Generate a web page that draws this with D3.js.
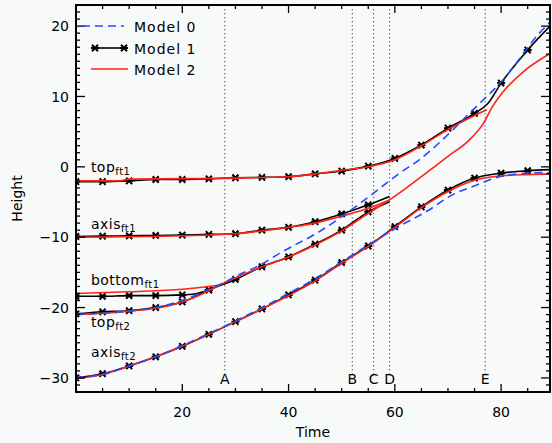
<!DOCTYPE html>
<html>
<head>
<meta charset="utf-8">
<script src="https://cdn.jsdelivr.net/npm/d3@7"></script>
<style>
  body { margin: 0; background: #f8f9f9; }
  svg { display: block; font-family: "DejaVu Sans", sans-serif; }
</style>
</head>
<body>
<svg id="chart" width="552" height="443"></svg>
<script>
// series as [time, height] pairs
const m0Upper = [[0,-21.0],[5,-20.8],[10,-20.5],[15,-20.0],[20,-19.0],[25,-17.4],[28,-16.4],[30,-15.6],[35,-13.8],[38.3,-12.3],[45.8,-9.2],[55.2,-4.2],[60.9,-0.9],[64.6,1.0],[70.3,4.8],[74.7,8.1],[80.3,12.3],[87.2,19.0],[89.2,20.6]];
const m0AxisFt2 = [[0,-29.9],[5,-29.5],[10,-28.3],[15,-27.0],[20,-25.4],[25,-23.7],[30,-21.9],[35,-20.0],[40,-18.0],[45,-15.9],[50,-13.5],[55,-11.1],[60,-8.8],[66.5,-6.1],[70.3,-4.2],[75.3,-2.6],[80.3,-1.3],[85.3,-0.9],[89.2,-0.8]];

const m1TopFt1 = [[0,-2.1],[5,-2.1],[10,-2.0],[15,-1.8],[20,-1.8],[25,-1.7],[30,-1.55],[35,-1.5],[40,-1.4],[45,-1.0],[50,-0.6],[55,0.1],[60,1.2],[65,3.1],[70,5.5],[75,7.6],[77.5,9.0],[80,11.9],[85,16.6],[89.2,20.0]];
const m1AxisFt1 = [[0,-9.9],[5,-9.85],[10,-9.8],[15,-9.75],[20,-9.7],[25,-9.6],[30,-9.5],[35,-9.0],[40,-8.6],[45,-7.8],[50,-6.7],[55,-5.4],[59,-4.2]];
const m1BottomFt1 = [[0,-18.4],[5,-18.4],[10,-18.3],[15,-18.3],[20,-18.2],[22,-18.1],[25,-17.5]];
const m1TopFt2 = [[0,-20.9],[5,-20.6],[10,-20.45],[15,-20.0],[20,-19.2],[25,-17.5],[30,-16.0],[35,-14.2],[40,-12.8],[45,-11.0],[50,-9.0],[55,-6.4],[59,-4.95]];
const m1AxisFt2 = [[0,-30.0],[5,-29.4],[10,-28.3],[15,-27.0],[20,-25.5],[25,-23.8],[30,-22.0],[35,-20.2],[40,-18.2],[45,-16.1],[50,-13.6],[55,-11.25],[60,-8.5],[65,-5.7],[70,-3.3],[75,-1.6],[80,-0.9],[85,-0.55],[89.2,-0.4]];

const m2TopFt1 = [[0,-2.0],[8,-2.0],[10,-1.75],[30,-1.6],[40,-1.4],[45,-1.0],[50,-0.5],[55,0.0],[60,1.0],[65,3.0],[70,5.3],[75,7.3],[77.3,8.1]];
const m2AxisFt1 = [[0,-10.0],[20,-9.8],[30,-9.5],[35,-9.1],[40,-8.6],[45,-8.0],[50,-7.0],[55,-5.9],[59,-4.7]];
const m2BottomFt1 = [[0,-18.0],[10,-17.75],[20,-17.4],[25,-17.0],[27,-16.8]];
const m2TopFt2 = [[0,-21.0],[5,-20.8],[10,-20.5],[15,-20.1],[20,-19.2],[25,-17.6],[27,-16.8],[30,-15.8],[35,-14.2],[40,-12.8],[45,-11.1],[50,-9.1],[55,-6.6],[59,-4.7],[62,-3.1],[65,-1.4],[70,1.5],[74,3.8],[76.6,6.1],[78.4,8.6],[80.3,10.6],[84,13.4],[89.2,16.1]];
const m2AxisFt2 = [[0,-30.1],[5,-29.5],[10,-28.3],[15,-27.0],[20,-25.5],[25,-23.8],[30,-22.0],[35,-20.2],[40,-18.3],[45,-16.2],[50,-13.7],[55,-11.3],[60,-8.6],[65,-5.8],[70,-3.5],[75,-1.9],[80,-1.3],[85,-1.1],[89.2,-1.0]];

const eventNames = ["A", "B", "C", "D", "E"];
const eventTimes = [28, 52, 56, 59, 77];

const layerNames = ["top", "axis", "bottom", "top", "axis"];
const layerSubs = ["ft1", "ft1", "ft1", "ft2", "ft2"];
const layerBaselines = [-0.8, -8.8, -16.8, -22.8, -27.0]; // label baseline in data units

const legendNames = ["Model 0", "Model 1", "Model 2"];

const xTicks = [20, 40, 60, 80];
const yTicks = [20, 10, 0, -10, -20, -30];

const BLUE = "#1f4cff", RED = "#ff2414", BLACK = "#000";

const svg = d3.select("#chart");
const margin = { top: 5, right: 2, bottom: 51, left: 76 };
const W = 552, H = 443;

const x = d3.scaleLinear().domain([0, 89.2]).range([margin.left, W - margin.right]);
const y = d3.scaleLinear().domain([-32, 23]).range([H - margin.bottom, margin.top]);

svg.append("defs").append("clipPath").attr("id", "plot")
    .append("rect")
    .attr("x", x(0)).attr("y", y(23))
    .attr("width", x(89.2) - x(0)).attr("height", y(-32) - y(23));

// dotted event lines
const ev = svg.append("g");
eventTimes.forEach((t, i) => {
    ev.append("line")
        .attr("x1", x(t)).attr("x2", x(t))
        .attr("y1", y(22.4)).attr("y2", y(-29.4))
        .attr("stroke", "#333").attr("stroke-width", 1.2)
        .attr("stroke-dasharray", "1,3");
    ev.append("text")
        .attr("x", x(t)).attr("y", y(-30.9))
        .attr("text-anchor", "middle")
        .attr("font-size", 14)
        .text(eventNames[i]);
});

const line = d3.line()
    .x(d => x(d[0]))
    .y(d => y(d[1]))
    .curve(d3.curveMonotoneX);

const plot = svg.append("g").attr("clip-path", "url(#plot)");

const starPath = "M-4,0H4M-3,-3.2L3,3.2M-3,3.2L3,-3.2";

// Model 1: black with asterisks every 5
[m1TopFt1, m1AxisFt1, m1BottomFt1, m1TopFt2, m1AxisFt2].forEach(s => {
    plot.append("path")
        .attr("d", line(s))
        .attr("fill", "none")
        .attr("stroke", BLACK)
        .attr("stroke-width", 1.6);
    plot.selectAll(null)
        .data(s.filter(d => d[0] % 5 === 0))
        .enter()
        .append("path")
        .attr("transform", d => "translate(" + x(d[0]) + "," + y(d[1]) + ")")
        .attr("d", starPath)
        .attr("stroke", BLACK)
        .attr("stroke-width", 2);
});

// Model 2: red
[m2TopFt1, m2AxisFt1, m2BottomFt1, m2TopFt2, m2AxisFt2].forEach(s => {
    plot.append("path")
        .attr("d", line(s))
        .attr("fill", "none")
        .attr("stroke", RED)
        .attr("stroke-width", 1.6);
});

// Model 0: blue dashed
[m0Upper, m0AxisFt2].forEach(s => {
    plot.append("path")
        .attr("d", line(s))
        .attr("fill", "none")
        .attr("stroke", BLUE)
        .attr("stroke-width", 1.6)
        .attr("stroke-dasharray", "8,5");
});

// layer labels with subscripts
layerNames.forEach((n, i) => {
    const t = svg.append("text")
        .attr("x", x(2.8))
        .attr("y", y(layerBaselines[i]))
        .attr("font-size", 14)
        .attr("letter-spacing", 0.5);
    t.append("tspan").text(n);
    t.append("tspan")
        .attr("font-size", 10)
        .attr("dy", 3)
        .text(layerSubs[i]);
});

// axes: ticks inward on all four sides
const axisG = svg.append("g").attr("stroke", BLACK);
const xMinor = d3.range(5, 89, 5);
const yMinor = d3.range(-31, 23, 1);

xMinor.forEach(v => {
    const len = v % 20 === 0 ? 8 : 4;
    axisG.append("line").attr("x1", x(v)).attr("x2", x(v))
        .attr("y1", y(-32)).attr("y2", y(-32) - len).attr("stroke-width", 1.3);
    axisG.append("line").attr("x1", x(v)).attr("x2", x(v))
        .attr("y1", y(23)).attr("y2", y(23) + len).attr("stroke-width", 1.3);
});
yMinor.forEach(v => {
    const len = v % 10 === 0 ? 9 : 4;
    axisG.append("line").attr("y1", y(v)).attr("y2", y(v))
        .attr("x1", x(0)).attr("x2", x(0) + len).attr("stroke-width", 1.3);
    axisG.append("line").attr("y1", y(v)).attr("y2", y(v))
        .attr("x1", x(89.2)).attr("x2", x(89.2) - len).attr("stroke-width", 1.3);
});

svg.append("rect")
    .attr("x", x(0)).attr("y", y(23))
    .attr("width", x(89.2) - x(0)).attr("height", y(-32) - y(23))
    .attr("fill", "none").attr("stroke", BLACK).attr("stroke-width", 2);

svg.selectAll(".xt").data(xTicks).enter().append("text")
    .attr("x", d => x(d)).attr("y", 417)
    .attr("text-anchor", "middle").attr("font-size", 14)
    .text(d => d);

svg.selectAll(".yt").data(yTicks).enter().append("text")
    .attr("x", 69).attr("y", d => y(d))
    .attr("dy", "0.36em")
    .attr("text-anchor", "end").attr("font-size", 14)
    .text(d => d < 0 ? "\u2212" + Math.abs(d) : d);

svg.append("text")
    .attr("x", (x(0) + x(89.2)) / 2).attr("y", 437)
    .attr("text-anchor", "middle").attr("font-size", 14)
    .text("Time");

svg.append("text")
    .attr("transform", "translate(22," + ((y(23) + y(-32)) / 2) + ")rotate(-90)")
    .attr("text-anchor", "middle").attr("font-size", 14)
    .text("Height");

// legend
const lg = svg.append("g");
const legendY = [26, 48, 69];
lg.append("line").attr("x1", 82).attr("x2", 124).attr("y1", legendY[0]).attr("y2", legendY[0])
    .attr("stroke", BLUE).attr("stroke-width", 1.6).attr("stroke-dasharray", "8,5");
lg.append("line").attr("x1", 95).attr("x2", 124).attr("y1", legendY[1]).attr("y2", legendY[1])
    .attr("stroke", BLACK).attr("stroke-width", 1.6);
[95, 124].forEach(px => lg.append("path")
    .attr("transform", "translate(" + px + "," + legendY[1] + ")")
    .attr("d", starPath).attr("stroke", BLACK).attr("stroke-width", 2));
lg.append("line").attr("x1", 91).attr("x2", 128).attr("y1", legendY[2]).attr("y2", legendY[2])
    .attr("stroke", RED).attr("stroke-width", 1.6);
legendNames.forEach((n, i) => {
    lg.append("text")
        .attr("x", 134).attr("y", legendY[i] + 6)
        .attr("font-size", 14).attr("letter-spacing", 1)
        .text(n);
});
</script>
</body>
</html>
